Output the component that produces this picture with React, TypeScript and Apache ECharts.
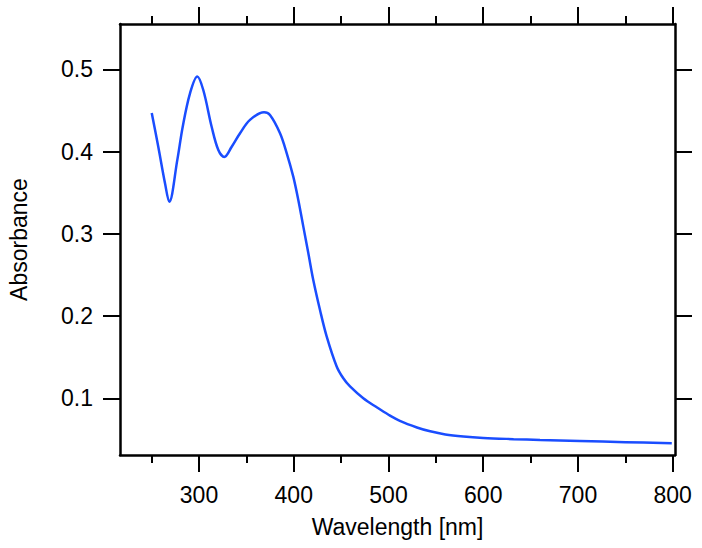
import React, { useEffect, useRef } from "react";
import * as echarts from "echarts";

const wavelength = [250.1, 257, 264.1, 268.6, 277.1, 282.8, 290.5, 298.2, 304.5, 313.4, 320.4, 326.7, 334.5, 343.3, 353.8, 368.6, 374.9, 385.5, 392.6, 399.5, 404.8, 410.1, 415.4, 420.6, 427.7, 434.8, 445.3, 452.3, 459.4, 473.4, 487.6, 500, 512, 530, 544, 560, 579, 600, 632, 660, 702, 750, 799];
const absorbance = [0.447, 0.406, 0.3616, 0.339, 0.39, 0.4304, 0.471, 0.4915, 0.475, 0.43, 0.402, 0.3935, 0.406, 0.4224, 0.4386, 0.448, 0.4446, 0.4224, 0.398, 0.3696, 0.3412, 0.3088, 0.2764, 0.2439, 0.2074, 0.175, 0.1387, 0.1243, 0.1144, 0.1, 0.089, 0.08, 0.0725, 0.0645, 0.0598, 0.056, 0.0535, 0.0518, 0.0503, 0.0492, 0.048, 0.0466, 0.0453];

const xMajor = [300, 400, 500, 600, 700, 800];
const xMinor = [250, 350, 450, 550, 650, 750];
const yMajor = [0.1, 0.2, 0.3, 0.4, 0.5];

const X_MIN = 216.6;
const X_MAX = 802.4;
const Y_MIN = 0.031;
const Y_MAX = 0.5553;

const FONT = "Liberation Sans, Arial, sans-serif";

export default function App() {
  const ref = useRef<HTMLDivElement>(null);
  useEffect(() => {
    if (!ref.current) return;
    const chart = echarts.init(ref.current, null, { renderer: "svg" });
    const axisLine = { show: true, lineStyle: { color: "#000", width: 2.5 } };
    const majorTick = (vals: number[]) => ({ show: true, inside: false, length: 17, lineStyle: { color: "#000", width: 2 }, customValues: vals });
    const minorTickAx = (vals: number[]) => ({ show: true, inside: false, length: 8, lineStyle: { color: "#000", width: 2 }, customValues: vals });
    const baseX = { type: "value", min: X_MIN, max: X_MAX, splitLine: { show: false } };
    const baseY = { type: "value", min: Y_MIN, max: Y_MAX, splitLine: { show: false } };
    chart.setOption({
      animation: false,
      backgroundColor: "#fff",
      grid: { left: 120, top: 24, right: 27, bottom: 93, containLabel: false, outerBoundsMode: "none" },
      xAxis: [
        {
          ...baseX,
          position: "bottom",
          axisLine,
          axisTick: majorTick(xMajor),
          axisLabel: { show: true, customValues: xMajor, margin: 28, fontSize: 23, color: "#000", fontFamily: FONT },
          name: "Wavelength [nm]",
          nameLocation: "middle",
          nameGap: 60,
          nameTextStyle: { fontSize: 23, color: "#000", fontFamily: FONT },
        },
        { ...baseX, position: "bottom", axisLine: { show: false }, axisTick: minorTickAx(xMinor), axisLabel: { show: false } },
        { ...baseX, position: "top", axisLine, axisTick: majorTick(xMajor), axisLabel: { show: false } },
        { ...baseX, position: "top", axisLine: { show: false }, axisTick: minorTickAx(xMinor), axisLabel: { show: false } },
      ],
      yAxis: [
        {
          ...baseY,
          position: "left",
          axisLine,
          axisTick: majorTick(yMajor),
          axisLabel: {
            show: true,
            customValues: yMajor,
            margin: 27,
            fontSize: 23,
            color: "#000",
            fontFamily: FONT,
            formatter: (v: number) => v.toFixed(1),
          },
          name: "Absorbance",
          nameLocation: "middle",
          nameGap: 90,
          nameTextStyle: { fontSize: 23, color: "#000", fontFamily: FONT },
        },
        { ...baseY, position: "right", axisLine, axisTick: majorTick(yMajor), axisLabel: { show: false } },
      ],
      series: [
        {
          type: "line",
          xAxisIndex: 0,
          yAxisIndex: 0,
          data: wavelength.map((w, i) => [w, absorbance[i]]),
          smooth: 0.35,
          showSymbol: false,
          lineStyle: { color: "#1a4dff", width: 2.5 },
        },
      ],
    });
    return () => chart.dispose();
  }, []);
  return <div ref={ref} style={{ position: "fixed", left: 0, top: 0, width: 702, height: 548 }} />;
}
